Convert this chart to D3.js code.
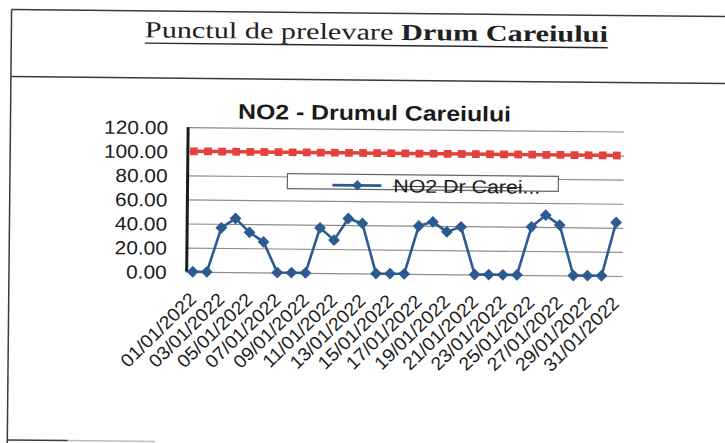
<!DOCTYPE html>
<html lang="ro">
<head>
    <meta charset="utf-8">
    <title>NO2 - Drumul Careiului</title>
    <style>
        html, body {
            margin: 0;
            padding: 0;
            background: #fff;
        }
        svg {
            display: block;
        }
        .axis text {
            font-family: "Liberation Sans", Arial, sans-serif;
            fill: #1c1c1c;
        }
    </style>
    <script src="https://d3js.org/d3.v7.min.js"></script>
</head>
<body>
<svg></svg>
<script>
    const width = 725;
    const height = 443;

    // data (µg/m3)
    const dates = [
        '01/01/2022', '02/01/2022', '03/01/2022', '04/01/2022', '05/01/2022', '06/01/2022',
        '07/01/2022', '08/01/2022', '09/01/2022', '10/01/2022', '11/01/2022', '12/01/2022',
        '13/01/2022', '14/01/2022', '15/01/2022', '16/01/2022', '17/01/2022', '18/01/2022',
        '19/01/2022', '20/01/2022', '21/01/2022', '22/01/2022', '23/01/2022', '24/01/2022',
        '25/01/2022', '26/01/2022', '27/01/2022', '28/01/2022', '29/01/2022', '30/01/2022',
        '31/01/2022'
    ];
    const no2Values = [
        0, 0, 36.7, 44.6, 33.1, 25.4, 0, 0, 0, 37.5, 27.4, 45.5, 41.5, 0, 0, 0,
        39.8, 43.4, 35.2, 39.5, 0, 0, 0, 0, 40.1, 49.9, 41.7, 0, 0, 0, 44.4
    ];
    const limitValues = [
        100, 100, 100, 100, 100, 100, 100, 100, 100, 100, 100, 100, 100, 100, 100, 100,
        100, 100, 100, 100, 100, 100, 100, 100, 100, 100, 100, 100, 100, 100, 100
    ];
    const yTicks = [0, 20, 40, 60, 80, 100, 120];
    const xTickLabels = [
        '01/01/2022', '03/01/2022', '05/01/2022', '07/01/2022', '09/01/2022', '11/01/2022',
        '13/01/2022', '15/01/2022', '17/01/2022', '19/01/2022', '21/01/2022', '23/01/2022',
        '25/01/2022', '27/01/2022', '29/01/2022', '31/01/2022'
    ];
    const seriesName = 'NO2 Dr Carei...';

    const sans = '"Liberation Sans", Arial, sans-serif';
    const serif = '"Liberation Serif", "Times New Roman", serif';
    const blue = '#2c5b92';
    const red = '#e2423d';

    const svg = d3.select('svg').attr('width', width).attr('height', height);
    svg.append('rect').attr('width', width).attr('height', height).attr('fill', '#fff');

    // the page was scanned a little skewed
    const page = svg.append('g').attr('transform', 'rotate(0.57, 362, 221)');

    // stretch text a bit wider, the scan is wider than the font metrics
    function widen(sel, k) {
        sel.each(function () {
            const w = this.getComputedTextLength();
            d3.select(this).attr('textLength', w * k).attr('lengthAdjust', 'spacingAndGlyphs');
        });
    }

    // page frame
    const frame = page.append('g')
        .attr('stroke', '#3a3a3a')
        .attr('stroke-width', 1.5)
        .attr('fill', 'none');
    frame.append('line').attr('x1', 9.5).attr('x2', 760).attr('y1', 13).attr('y2', 13);
    frame.append('line').attr('x1', 9.5).attr('x2', 760).attr('y1', 80).attr('y2', 80);
    frame.append('line').attr('x1', 9.5).attr('x2', 9.5).attr('y1', 13).attr('y2', 450);
    frame.append('line').attr('x1', 9.5).attr('x2', 70).attr('y1', 443.5).attr('y2', 443.5);
    frame.append('line').attr('x1', 70).attr('x2', 157).attr('y1', 443.5).attr('y2', 443.5)
        .attr('stroke', '#b8bdb8');

    // page heading
    const heading = page.append('text')
        .attr('x', 374.5)
        .attr('y', 39.5)
        .attr('text-anchor', 'middle')
        .attr('font-family', serif)
        .attr('font-size', 23)
        .attr('fill', '#1e221e')
        .attr('textLength', 463)
        .attr('lengthAdjust', 'spacingAndGlyphs');
    heading.append('tspan').text('Punctul de prelevare ');
    heading.append('tspan').attr('font-weight', 'bold').text('Drum Careiului');
    page.append('line')
        .attr('x1', 143).attr('x2', 606)
        .attr('y1', 45.3).attr('y2', 45.3)
        .attr('stroke', '#2a2a2a')
        .attr('stroke-width', 1.4);

    // chart
    const plotLeft = 186.2, plotRight = 623.2;
    const x = d3.scaleBand().domain(dates).range([plotLeft, plotRight]);
    const cx = d => x(d) + x.bandwidth() / 2;
    const y = d3.scaleLinear().domain([0, 120]).range([273.4, 128.9]);

    page.append('text')
        .attr('x', 373.5)
        .attr('y', 120)
        .attr('text-anchor', 'middle')
        .attr('font-family', sans)
        .attr('font-weight', 'bold')
        .attr('font-size', 21)
        .attr('fill', '#1a1a1a')
        .attr('textLength', 273)
        .attr('lengthAdjust', 'spacingAndGlyphs')
        .text('NO2 - Drumul Careiului');

    const yAxis = page.append('g')
        .attr('class', 'axis')
        .attr('transform', `translate(${plotLeft},0)`)
        .call(d3.axisLeft(y)
            .tickValues(yTicks)
            .tickSize(-(plotRight - plotLeft))
            .tickPadding(19)
            .tickFormat(d3.format('.2f')));
    yAxis.select('.domain').remove();
    yAxis.selectAll('.tick line').attr('stroke', '#8c8c8c').attr('stroke-width', 1.2);
    yAxis.selectAll('.tick text')
        .attr('font-size', 19)
        .attr('dy', '0.36em')
        .call(widen, 1.1);

    // thick vertical axis line
    page.append('line')
        .attr('x1', plotLeft + 1).attr('x2', plotLeft + 1)
        .attr('y1', y(120)).attr('y2', y(0))
        .attr('stroke', '#1b1b1b')
        .attr('stroke-width', 3);

    const xAxis = page.append('g')
        .attr('class', 'axis')
        .attr('transform', `translate(0,${y(0)})`)
        .call(d3.axisBottom(x).tickValues(xTickLabels).tickSize(0));
    xAxis.select('.domain').remove();
    xAxis.selectAll('.tick text')
        .attr('font-size', 18.5)
        .attr('x', 0)
        .attr('y', 0)
        .attr('dy', 0)
        .attr('transform', `translate(5,${302 - y(0)}) rotate(-45)`)
        .style('text-anchor', 'end')
        .call(widen, 1.05);

    // limit value series (red squares)
    const lineLimit = d3.line().x((d, i) => cx(dates[i])).y(d => y(d));
    page.append('path')
        .datum(limitValues)
        .attr('fill', 'none')
        .attr('stroke', red)
        .attr('stroke-width', 3.5)
        .attr('d', lineLimit);
    page.append('g').selectAll('path')
        .data(limitValues)
        .enter().append('path')
        .attr('transform', (d, i) => `translate(${cx(dates[i])},${y(d)})`)
        .attr('d', d3.symbol(d3.symbolSquare, 60))
        .attr('fill', red);

    // NO2 series (blue diamonds)
    const lineNo2 = d3.line().x((d, i) => cx(dates[i])).y(d => y(d));
    page.append('path')
        .datum(no2Values)
        .attr('fill', 'none')
        .attr('stroke', blue)
        .attr('stroke-width', 2.6)
        .attr('stroke-linejoin', 'round')
        .attr('d', lineNo2);
    page.append('g').selectAll('path')
        .data(no2Values)
        .enter().append('path')
        .attr('transform', (d, i) => `translate(${cx(dates[i])},${y(d)}) rotate(45)`)
        .attr('d', d3.symbol(d3.symbolSquare, 70))
        .attr('fill', blue);

    // legend
    const legend = page.append('g');
    legend.append('rect')
        .attr('x', 287).attr('y', 174.4)
        .attr('width', 271).attr('height', 15)
        .attr('fill', '#fff')
        .attr('stroke', '#666')
        .attr('stroke-width', 1.2);
    legend.append('line')
        .attr('x1', 332).attr('x2', 381)
        .attr('y1', 185.4).attr('y2', 185.4)
        .attr('stroke', blue)
        .attr('stroke-width', 2.6);
    legend.append('path')
        .attr('transform', 'translate(357,185.4) rotate(45)')
        .attr('d', d3.symbol(d3.symbolSquare, 55))
        .attr('fill', blue);
    legend.append('text')
        .attr('x', 393)
        .attr('y', 192)
        .attr('font-family', sans)
        .attr('font-size', 18.5)
        .attr('fill', '#1a1a1a')
        .attr('textLength', 147)
        .attr('lengthAdjust', 'spacingAndGlyphs')
        .text(seriesName);
    legend.append('line')
        .attr('x1', 393).attr('x2', 522)
        .attr('y1', 186).attr('y2', 186)
        .attr('stroke', '#333')
        .attr('stroke-width', 1);
</script>
</body>
</html>
